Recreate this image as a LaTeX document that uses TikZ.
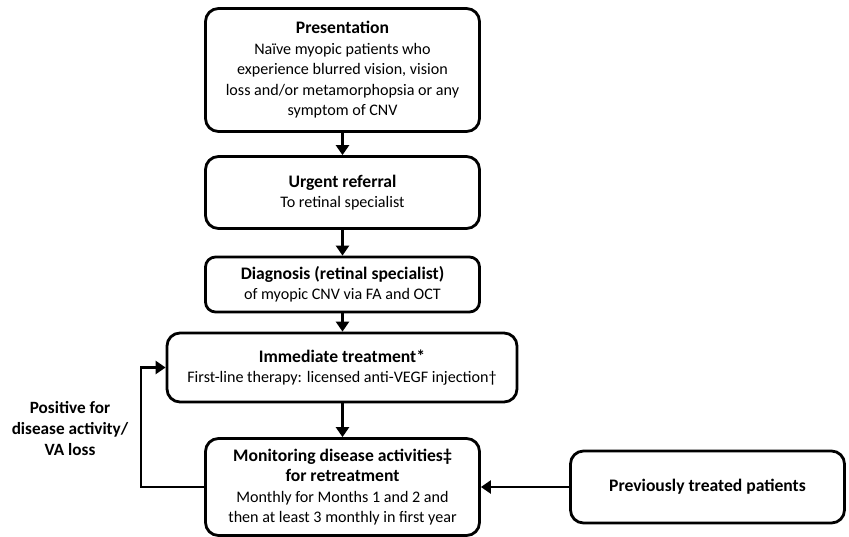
\documentclass[tikz,border=0pt]{standalone}
\usepackage{fontspec}
\setmainfont{Carlito}
\usetikzlibrary{arrows.meta}
\newcommand\boxtitle[1]{{\fontsize{17.6}{20.5}\selectfont\bfseries #1}}
\begin{document}
\begin{tikzpicture}[x=1pt,y=-1pt,
  box/.style={draw=black, line width=2.8pt, rounded corners=13pt, align=center, inner sep=0pt,
    font=\fontsize{16.1}{20.5}\selectfont},
  lbl/.style={align=center, inner sep=0pt, font=\fontsize{17.2}{21}\selectfont\bfseries},
  arr/.style={line width=2.8pt, -{Triangle[width=13pt,length=10pt]}},
]
\useasboundingbox[fill=white] (0,0) rectangle (849,536);
\node[box, minimum width=274pt, minimum height=123pt] (pres) at (342.5,70)
  {\boxtitle{Presentation}\\Naïve myopic patients who\\experience blurred vision, vision\\loss and/or metamorphopsia or any\\symptom of CNV};
\node[box, minimum width=274pt, minimum height=72pt] (ref) at (342.5,192.5)
  {\boxtitle{Urgent referral}\\To retinal specialist};
\node[box, minimum width=274pt, minimum height=55pt, rounded corners=10pt] (diag) at (342.5,284.5)
  {\boxtitle{Diagnosis (retinal specialist)}\\of myopic CNV via FA and OCT};
\node[box, minimum width=350pt, minimum height=69pt] (treat) at (342,367.5)
  {\boxtitle{Immediate treatment*}\\First-line therapy: licensed anti-VEGF injection†};
\node[box, minimum width=274pt, minimum height=97pt] (mon) at (342.5,487)
  {\boxtitle{Monitoring disease activities‡}\\\boxtitle{for retreatment}\\Monthly for Months 1 and 2 and\\then at least 3 monthly in first year};
\node[box, minimum width=274pt, minimum height=72pt] (prev) at (707.5,487)
  {\boxtitle{Previously treated patients}};
\node[lbl] (pos) at (70,429) {Positive for\\disease activity/\\VA loss};
\coordinate (loopx) at (141,0);
\draw[arr] (pres) -- (ref);
\draw[arr] (ref) -- (diag);
\draw[arr] (diag) -- (diag |- treat.north);
\draw[arr] (treat.south -| mon) -- (mon);
\draw[arr] (prev) -- (mon);
\draw[arr, rounded corners=0pt] (mon.west) -- (mon.west -| loopx) -- (loopx |- treat.west) -- (treat.west);
\end{tikzpicture}
\end{document}
